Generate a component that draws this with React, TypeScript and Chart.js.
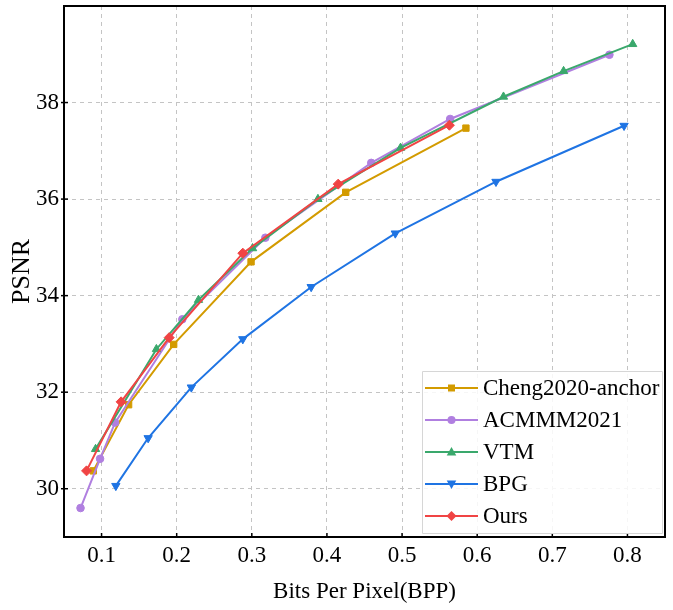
import React, { useEffect, useRef } from "react";
import { Chart, registerables } from "chart.js";

Chart.register(...registerables);

const chengX = [0.089, 0.136, 0.196, 0.299, 0.425, 0.585];
const chengY = [30.37, 31.74, 32.99, 34.7, 36.14, 37.47];
const acmX = [0.072, 0.098, 0.118, 0.2075, 0.318, 0.459, 0.564, 0.776];
const acmY = [29.6, 30.62, 31.37, 33.51, 35.2, 36.75, 37.66, 38.99];
const vtmX = [0.092, 0.173, 0.229, 0.301, 0.388, 0.498, 0.635, 0.715, 0.807];
const vtmY = [30.82, 32.89, 33.91, 34.98, 36.0, 37.06, 38.12, 38.65, 39.21];
const bpgX = [0.119, 0.162, 0.2195, 0.288, 0.379, 0.491, 0.625, 0.7955];
const bpgY = [30.06, 31.05, 32.1, 33.1, 34.18, 35.29, 36.36, 37.52];
const oursX = [0.08, 0.126, 0.19, 0.288, 0.415, 0.563];
const oursY = [30.37, 31.8, 33.13, 34.88, 36.31, 37.53];

const xTicks = [0.1, 0.2, 0.3, 0.4, 0.5, 0.6, 0.7, 0.8];
const yTicks = [30, 32, 34, 36, 38];

const seriesNames = ["Cheng2020-anchor", "ACMMM2021", "VTM", "BPG", "Ours"];
const seriesColors = ["#d39b00", "#b07fe0", "#3aa86c", "#1f74e3", "#f04444"];
const seriesMarkers = ["square", "circle", "triUp", "triDown", "diamond"];

const FONT = "'Liberation Serif', 'Times New Roman', serif";

const zip = (xs: number[], ys: number[]) => xs.map((x, i) => ({ x, y: ys[i] }));

function drawMarker(ctx: CanvasRenderingContext2D, kind: string, x: number, y: number, color: string) {
  ctx.save();
  ctx.fillStyle = color;
  ctx.beginPath();
  if (kind === "square") {
    ctx.rect(x - 3.5, y - 3.5, 7, 7);
  } else if (kind === "circle") {
    ctx.arc(x, y, 4, 0, Math.PI * 2);
  } else if (kind === "triUp") {
    ctx.moveTo(x, y - 5);
    ctx.lineTo(x + 4.8, y + 3.5);
    ctx.lineTo(x - 4.8, y + 3.5);
    ctx.closePath();
  } else if (kind === "triDown") {
    ctx.moveTo(x, y + 5);
    ctx.lineTo(x + 4.8, y - 3.5);
    ctx.lineTo(x - 4.8, y - 3.5);
    ctx.closePath();
  } else {
    ctx.moveTo(x, y - 5);
    ctx.lineTo(x + 5, y);
    ctx.lineTo(x, y + 5);
    ctx.lineTo(x - 5, y);
    ctx.closePath();
  }
  ctx.fill();
  ctx.restore();
}

const framePlugin = {
  id: "frameAndLegend",
  afterDraw(chart: any) {
    const { ctx, chartArea } = chart;
    const { left, right, top, bottom } = chartArea;
    const xs = chart.scales.x;
    const ys = chart.scales.y;
    ctx.save();
    // inward ticks
    ctx.strokeStyle = "#000";
    ctx.lineWidth = 1.5;
    xTicks.forEach((v) => {
      const px = xs.getPixelForValue(v);
      ctx.beginPath();
      ctx.moveTo(px, bottom);
      ctx.lineTo(px, bottom - 4);
      ctx.stroke();
    });
    yTicks.forEach((v) => {
      const py = ys.getPixelForValue(v);
      ctx.beginPath();
      ctx.moveTo(left - 3, py);
      ctx.lineTo(left + 4, py);
      ctx.stroke();
    });
    // legend
    const bw = 240;
    const bh = 162;
    const bx = right - 3 - bw;
    const by = bottom - 4 - bh;
    ctx.fillStyle = "rgba(255,255,255,0.85)";
    ctx.strokeStyle = "#d6d6d6";
    ctx.lineWidth = 1;
    ctx.beginPath();
    ctx.rect(bx + 0.5, by + 0.5, bw, bh);
    ctx.fill();
    ctx.stroke();
    ctx.font = `23px ${FONT}`;
    ctx.textBaseline = "middle";
    ctx.textAlign = "left";
    seriesNames.forEach((name, i) => {
      const cy = by + 17 + i * 32;
      const color = seriesColors[i];
      ctx.strokeStyle = color;
      ctx.lineWidth = 2;
      ctx.beginPath();
      ctx.moveTo(bx + 3, cy);
      ctx.lineTo(bx + 56, cy);
      ctx.stroke();
      drawMarker(ctx, seriesMarkers[i], bx + 29.5, cy, color);
      ctx.fillStyle = "#000";
      ctx.fillText(name, bx + 61, cy + 1);
    });
    // frame
    ctx.strokeStyle = "#000";
    ctx.lineWidth = 2;
    ctx.strokeRect(left, top, right - left, bottom - top);
    ctx.restore();
  },
};

export default function App() {
  const ref = useRef<HTMLCanvasElement | null>(null);
  useEffect(() => {
    if (!ref.current) return;
    const mk = (i: number, xs: number[], ys: number[], style: any, radius: number, rotation: number, order: number) => ({
      label: seriesNames[i],
      data: zip(xs, ys),
      borderColor: seriesColors[i],
      backgroundColor: seriesColors[i],
      pointBackgroundColor: seriesColors[i],
      pointBorderColor: seriesColors[i],
      pointBorderWidth: 1,
      pointStyle: style,
      pointRadius: radius,
      pointRotation: rotation,
      borderWidth: 2,
      tension: 0,
      order,
    });
    const chart = new Chart(ref.current, {
      type: "line",
      data: {
        datasets: [
          mk(0, chengX, chengY, "rect", 4.5, 0, 5),
          mk(1, acmX, acmY, "circle", 3.8, 0, 3),
          mk(2, vtmX, vtmY, "triangle", 4.8, 0, 2),
          mk(3, bpgX, bpgY, "triangle", 4.8, 180, 4),
          mk(4, oursX, oursY, "rectRot", 5, 0, 1),
        ],
      },
      options: {
        animation: false,
        responsive: false,
        layout: { padding: { top: 6, right: 8, left: 0, bottom: 0 } },
        plugins: { legend: { display: false }, tooltip: { enabled: false } },
        scales: {
          x: {
            type: "linear",
            min: 0.05,
            max: 0.85,
            afterBuildTicks: (s: any) => {
              s.ticks = xTicks.map((v) => ({ value: v }));
            },
            afterFit: (s: any) => {
              s.height = 73;
              s.paddingLeft = 0;
              s.paddingRight = 0;
            },
            border: { display: false, dash: [4, 4] },
            grid: { color: "#c4c4c4", lineWidth: 1, drawTicks: false },
            ticks: {
              padding: 5,
              color: "#000",
              font: { family: FONT, size: 23 },
              callback: (v: any) => Number(v).toFixed(1),
              maxRotation: 0,
            },
            title: {
              display: true,
              text: "Bits Per Pixel(BPP)",
              color: "#000",
              font: { family: FONT, size: 23 },
              padding: { top: 0, bottom: 4 },
            },
          },
          y: {
            type: "linear",
            min: 29,
            max: 40,
            afterBuildTicks: (s: any) => {
              s.ticks = yTicks.map((v) => ({ value: v }));
            },
            afterFit: (s: any) => {
              s.width = 64;
              s.paddingTop = 0;
              s.paddingBottom = 0;
            },
            border: { display: false, dash: [4, 4] },
            grid: { color: "#c4c4c4", lineWidth: 1, drawTicks: false },
            ticks: {
              padding: 5,
              color: "#000",
              font: { family: FONT, size: 23 },
              callback: (v: any) => String(v),
            },
            title: {
              display: true,
              text: "PSNR",
              color: "#000",
              font: { family: FONT, size: 26 },
              padding: { top: 7, bottom: 0 },
            },
          },
        },
      },
      plugins: [framePlugin],
    } as any);
    return () => chart.destroy();
  }, []);
  return (
    <div style={{ position: "fixed", left: 0, top: 0, width: 673, height: 610, background: "#fff" }}>
      <canvas ref={ref} width={673} height={610} />
    </div>
  );
}
